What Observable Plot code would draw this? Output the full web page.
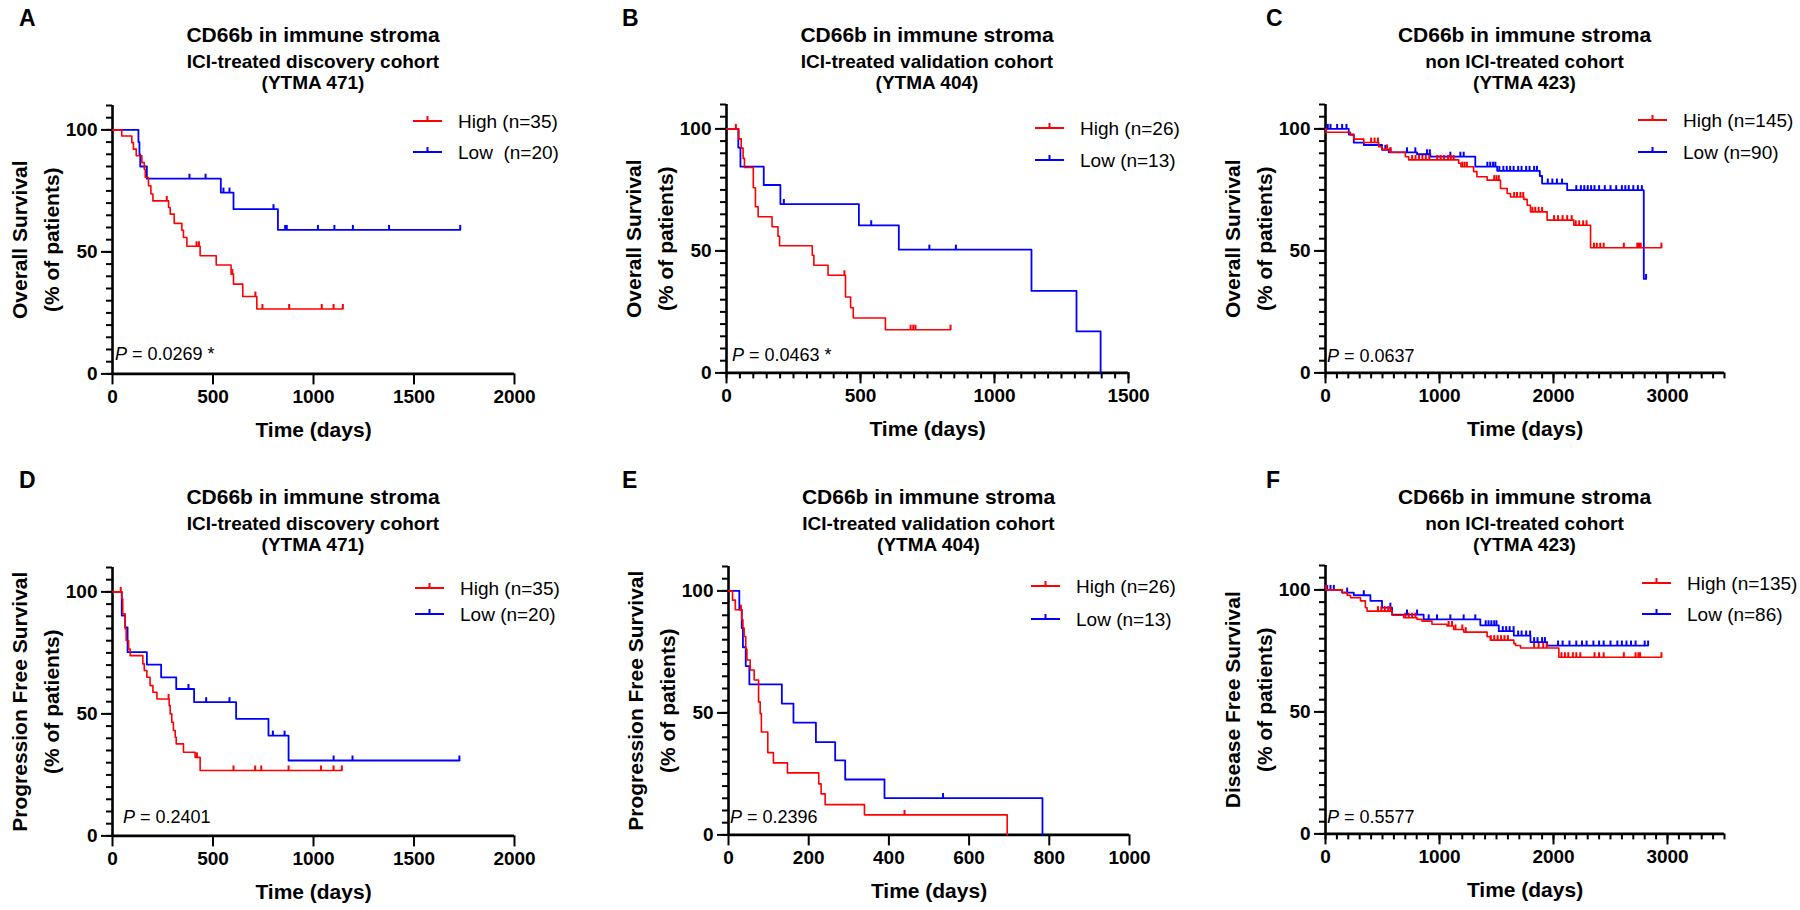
<!DOCTYPE html>
<html><head><meta charset="utf-8">
<script src="https://cdn.jsdelivr.net/npm/d3@7"></script>
<script src="https://cdn.jsdelivr.net/npm/@observablehq/plot@0.6"></script>
<style>
body{margin:0;background:#fff;}
#page{position:relative;width:1800px;height:910px;overflow:hidden;background:#fff;}
#page svg{position:absolute;}
</style></head><body><div id="page"></div>
<script>
// ---------- DATA (days, % surviving) ----------
const A_high = [[0,100],[46,97.5],[96,94.8],[104,92.1],[118,89.4],[146,86.6],[158,83.9],[163,80.5],[179,77.1],[191,73.7],[201,70.9],[279,68.2],[287,65.5],[307,61.7],[345,58.9],[353,55.9],[370,52.3],[436,48.4],[516,44.6],[590,40.9],[602,36.8],[648,31.7],[718,26.6]];
const A_highCens = [270,418,430,596,711,746,879,1041,1100,1146];
const A_low = [[0,100],[129,95],[134,90],[138,85],[171,80],[539,74.3],[602,67.5],[823,59]];
const A_lowCens = [383,463,552,582,801,859,867,1022,1104,1196,1376,1730];

const B_high = [[0,100],[46,95.9],[55,92.1],[62,87.9],[67,84.2],[100,75.9],[108,68.1],[118,64.0],[170,59.9],[192,56.0],[198,52.1],[320,48.2],[326,44.1],[379,40.0],[444,31.1],[463,26.7],[473,22.5],[593,17.7]];
const B_highCens = [35,440,687,697,705,836];
const B_low = [[0,100],[44,92.3],[52,84.5],[139,77.0],[201,69.2],[494,60.5],[643,50.5],[1138,33.6],[1306,17.0],[1396,0]];
const B_lowCens = [214,540,757,856];

const C_high = [[0,100],[4,98.6],[219,97.5],[248,95.8],[336,94.4],[467,92.7],[496,91.6],[563,90.4],[701,88.6],[730,87.3],[1168,85.9],[1188,84.5],[1299,82.5],[1328,80.4],[1418,79.0],[1535,75.6],[1594,73.5],[1623,72.1],[1740,71.1],[1769,68.7],[1798,66.0],[1944,62.6],[2178,60.5],[2325,51.3]];
const C_highCens = [400,430,460,540,570,760,790,820,850,880,910,980,1010,1040,1075,1100,1125,1200,1220,1240,1480,1500,1520,1655,1680,1710,1735,1815,1840,1870,1900,2005,2040,2080,2120,2160,2195,2225,2260,2290,2355,2380,2410,2440,2617,2735,2750,2765,2947];
const C_low = [[0,100],[204,97.7],[248,94.4],[336,93.4],[496,91.4],[555,90.4],[803,89.6],[920,88.6],[1314,84.5],[1506,82.8],[1880,80.7],[1900,77.6],[2120,74.9],[2792,38.5]];
const C_lowCens = [20,44,102,146,184,525,570,715,788,890,915,1095,1183,1212,1420,1445,1470,1490,1525,1560,1590,1620,1650,1690,1720,1760,1790,1830,1855,1950,1990,2030,2075,2200,2240,2270,2300,2330,2360,2400,2450,2500,2550,2600,2630,2660,2700,2740,2775,2812];

const D_high = [[0,100],[46,97.1],[51,91],[63,84.8],[68,80.1],[80,76.6],[88,73.9],[151,70.5],[158,67.8],[171,65],[187,61.6],[201,58.9],[221,56.1],[282,53.4],[287,50],[295,46.6],[303,43.2],[312,40.4],[317,37.7],[353,34.3],[411,32.2],[436,26.8]];
const D_highCens = [41,279,420,602,710,740,876,1037,1100,1141];
const D_low = [[0,100],[46,90.3],[63,85.5],[75,75.3],[171,70.2],[242,65],[317,60.2],[406,54.8],[615,48],[776,41.1],[876,30.9]];
const D_lowCens = [378,466,582,798,856,1100,1194,1726];

const E_high = [[0,100],[10,96.2],[17,92.3],[33,88.2],[36,84.8],[39,81.3],[43,76.1],[46,71.7],[54,67.6],[64,63.5],[75,54.5],[79,49.7],[82,42.2],[98,33.7],[112,29.5],[147,25.4],[225,20.9],[231,16.8],[241,12.4],[339,8.2],[695,0]];
const E_highCens = [31,439];
const E_low = [[0,100],[27,92.3],[33,84.8],[36,76.9],[43,69.2],[52,61.7],[133,53.8],[162,46],[218,38],[266,30.5],[291,22.7],[389,15.1],[783,0]];
const E_lowCens = [535];

const F_high = [[0,100],[146,98.9],[190,97.8],[219,96.8],[307,95.5],[350,92.7],[365,91.3],[584,89.6],[686,88.6],[803,87.9],[847,87.2],[934,85.9],[1066,85.2],[1124,83.8],[1212,82.7],[1418,80.8],[1447,79.4],[1652,78.0],[1667,77.2],[1711,76.2],[2047,72.4]];
const F_highCens = [5,460,490,520,550,570,700,730,760,790,1080,1110,1140,1200,1230,1450,1480,1510,1540,1570,1600,1830,1870,1910,1940,2070,2100,2130,2170,2200,2235,2360,2400,2440,2617,2720,2745,2760,2947];
const F_low = [[0,100],[146,98.9],[248,97.8],[394,95.5],[496,92.7],[584,89.9],[861,87.9],[1358,85.5],[1520,83.1],[1652,81.3],[1798,78.6],[1944,77.2]];
const F_lowCens = [15,44,73,190,336,569,715,803,905,978,1095,1212,1314,1405,1430,1455,1480,1500,1555,1585,1615,1650,1690,1720,1760,1795,1830,1860,1900,1925,2040,2080,2140,2200,2250,2290,2350,2400,2440,2500,2560,2600,2640,2680,2720,2800,2830];

// ticks & texts
const yTicks = [0,50,100];
const xTicksA = [0,500,1000,1500,2000];
const xTicksB = [0,500,1000,1500];
const xTicksC = [0,1000,2000,3000];
const xTicksE = [0,200,400,600,800,1000];
const titleText = "CD66b in immune stroma";
const subDiscovery = ["ICI-treated discovery cohort","(YTMA 471)"];
const subValidation = ["ICI-treated validation cohort","(YTMA 404)"];
const subNon = ["non ICI-treated cohort","(YTMA 423)"];
const ylabOS = ["Overall Survival","(% of patients)"];
const ylabPFS = ["Progression Free Survival","(% of patients)"];
const ylabDFS = ["Disease Free Survival","(% of patients)"];
const xLabel = "Time (days)";
const legA = ["High (n=35)","Low  (n=20)"];
const legB = ["High (n=26)","Low (n=13)"];
const legC = ["High (n=145)","Low (n=90)"];
const legD = ["High (n=35)","Low (n=20)"];
const legE = ["High (n=26)","Low (n=13)"];
const legF = ["High (n=135)","Low (n=86)"];
const pvals = ["0.0269 *","0.0463 *","0.0637","0.2401","0.2396","0.5577"];
const letters = ["A","B","C","D","E","F"];

// ---------- LAYOUT ----------
const RED = "#ff0000", BLUE = "#0000ff";
const PXU = 2.44;
const FONT = "'Liberation Sans', Arial, Helvetica, sans-serif";
const panels = [
 {ox:112, oy:373, xmax:2000, xw:402, xt:xTicksA, minor:null, ylab:ylabOS, hi:A_high, hiC:A_highCens, lo:A_low, loC:A_lowCens, sub:subDiscovery, leg:legA, legX:413, legY:[121,152], pX:115, pY:360, lx:19, ly:26},
 {ox:726, oy:372, xmax:1500, xw:402, xt:xTicksB, minor:50, ylab:ylabOS, hi:B_high, hiC:B_highCens, lo:B_low, loC:B_lowCens, sub:subValidation, leg:legB, legX:1035, legY:[128,160], pX:732, pY:361, lx:622, ly:26},
 {ox:1325, oy:372, xmax:3500, xw:399, xt:xTicksC, minor:100, ylab:ylabOS, hi:C_high, hiC:C_highCens, lo:C_low, loC:C_lowCens, sub:subNon, leg:legC, legX:1638, legY:[120,152], pX:1327, pY:362, lx:1266, ly:26},
 {ox:112, oy:835, xmax:2000, xw:402, xt:xTicksA, minor:null, ylab:ylabPFS, hi:D_high, hiC:D_highCens, lo:D_low, loC:D_lowCens, sub:subDiscovery, leg:legD, legX:415, legY:[588,614], pX:123, pY:823, lx:19, ly:488},
 {ox:728, oy:834, xmax:1000, xw:401, xt:xTicksE, minor:null, ylab:ylabPFS, hi:E_high, hiC:E_highCens, lo:E_low, loC:E_lowCens, sub:subValidation, leg:legE, legX:1031, legY:[586,619], pX:730, pY:823, lx:622, ly:488},
 {ox:1325, oy:833, xmax:3500, xw:399, xt:xTicksC, minor:100, ylab:ylabDFS, hi:F_high, hiC:F_highCens, lo:F_low, loC:F_lowCens, sub:subNon, leg:legF, legX:1642, legY:[583,614], pX:1327, pY:823, lx:1266, ly:488}
];

function stepAt(steps, t){ let v = steps[0][1]; for (const [d,s] of steps){ if (d <= t) v = s; else break; } return v; }
function lineData(steps, cens){
  const pts = steps.map(([t,s]) => ({t, s}));
  const last = steps[steps.length-1];
  const tEnd = Math.max(last[0], ...cens);
  if (tEnd > last[0]) pts.push({t:tEnd, s:last[1]});
  return pts;
}
function censData(steps, cens){ return cens.map(t => ({t, s: stepAt(steps, t)})); }
const censorSymbol = {draw(ctx){ ctx.moveTo(0,0); ctx.lineTo(0,-5); }};
const plain = d => String(d);

const page = document.getElementById("page");
let overlay = "";
panels.forEach((L, i) => {
  const mL=140, mR=16, mT=14, mB=80;
  const innerH = 110*PXU;
  const W = mL + L.xw + mR, H = mT + innerH + mB;
  const marks = [
    Plot.axisY(d3.range(0,111,5), {tickSize:6, strokeWidth:2, tickFormat:() => "", label:null}),
    Plot.axisY(yTicks, {tickSize:11, tickPadding:4, strokeWidth:2, label:null, tickFormat:plain, fontSize:19, fontWeight:"bold"}),
    Plot.axisX(L.xt, {tickSize:11, tickPadding:5, strokeWidth:2, label:null, tickFormat:plain, fontSize:19, fontWeight:"bold"}),
    Plot.ruleX([0], {y1:0, y2:110, strokeWidth:2.6}),
    Plot.ruleY([0], {x1:0, x2:L.xmax, strokeWidth:2.6}),
    Plot.line(lineData(L.lo, L.loC), {x:"t", y:"s", curve:"step-after", stroke:BLUE, strokeWidth:1.8}),
    Plot.dot(censData(L.lo, L.loC), {x:"t", y:"s", symbol:censorSymbol, r:3, stroke:BLUE, strokeWidth:2, fill:"none"}),
    Plot.line(lineData(L.hi, L.hiC), {x:"t", y:"s", curve:"step-after", stroke:RED, strokeWidth:1.6}),
    Plot.dot(censData(L.hi, L.hiC), {x:"t", y:"s", symbol:censorSymbol, r:3, stroke:RED, strokeWidth:2, fill:"none"}),
    Plot.text([L.ylab.join("\n")], {frameAnchor:"left", dx:-80, rotate:-90, textAnchor:"middle", lineAnchor:"middle", lineHeight:1.52, fontSize:21, fontWeight:"bold"}),
    Plot.text([xLabel], {frameAnchor:"bottom", dy:56, lineAnchor:"middle", fontSize:21, fontWeight:"bold"})
  ];
  if (L.minor) marks.unshift(Plot.axisX(d3.range(0, L.xmax+1, L.minor), {tickSize:6, strokeWidth:2, tickFormat:() => "", label:null}));
  const chart = Plot.plot({
    width:W, height:H, marginLeft:mL, marginRight:mR, marginTop:mT, marginBottom:mB,
    x:{domain:[0, L.xmax]}, y:{domain:[0,110]},
    style:{fontFamily:FONT, fontSize:"19px", fontWeight:"bold", color:"#000", background:"transparent", overflow:"visible"},
    marks
  });
  chart.style.left = (L.ox - mL) + "px";
  chart.style.top = (L.oy - innerH - mT) + "px";
  page.appendChild(chart);

  const cx = L.ox + L.xw/2;
  const dy = i >= 3 ? 462 : 0;
  overlay += `<text x="${L.lx}" y="${L.ly}" font-size="23" font-weight="bold">${letters[i]}</text>`;
  overlay += `<text x="${cx}" y="${42+dy}" text-anchor="middle" font-size="21" font-weight="bold">${titleText}</text>`;
  overlay += `<text x="${cx}" y="${68+dy}" text-anchor="middle" font-size="19" font-weight="bold" font-family="'Liberation Sans Narrow', 'Arial Narrow', ${FONT}">${L.sub[0]}</text>`;
  overlay += `<text x="${cx}" y="${89+dy}" text-anchor="middle" font-size="19" font-weight="bold" font-family="'Liberation Sans Narrow', 'Arial Narrow', ${FONT}">${L.sub[1]}</text>`;
  [RED, BLUE].forEach((c, k) => {
    const y = L.legY[k];
    overlay += `<line x1="${L.legX}" x2="${L.legX+29}" y1="${y}" y2="${y}" stroke="${c}" stroke-width="2"/>`;
    overlay += `<line x1="${L.legX+14.5}" x2="${L.legX+14.5}" y1="${y}" y2="${y-5}" stroke="${c}" stroke-width="2"/>`;
    overlay += `<text x="${L.legX+45}" y="${y+7}" font-size="19" style="white-space:pre">${L.leg[k]}</text>`;
  });
  overlay += `<text x="${L.pX}" y="${L.pY}" font-size="18"><tspan font-style="italic">P</tspan> = ${pvals[i]}</text>`;
});
const ov = document.createElementNS("http://www.w3.org/2000/svg","svg");
ov.setAttribute("width","1800"); ov.setAttribute("height","910");
ov.setAttribute("style", `left:0;top:0;font-family:${FONT};fill:#000;pointer-events:none`);
ov.innerHTML = overlay;
page.appendChild(ov);
</script></body></html>
